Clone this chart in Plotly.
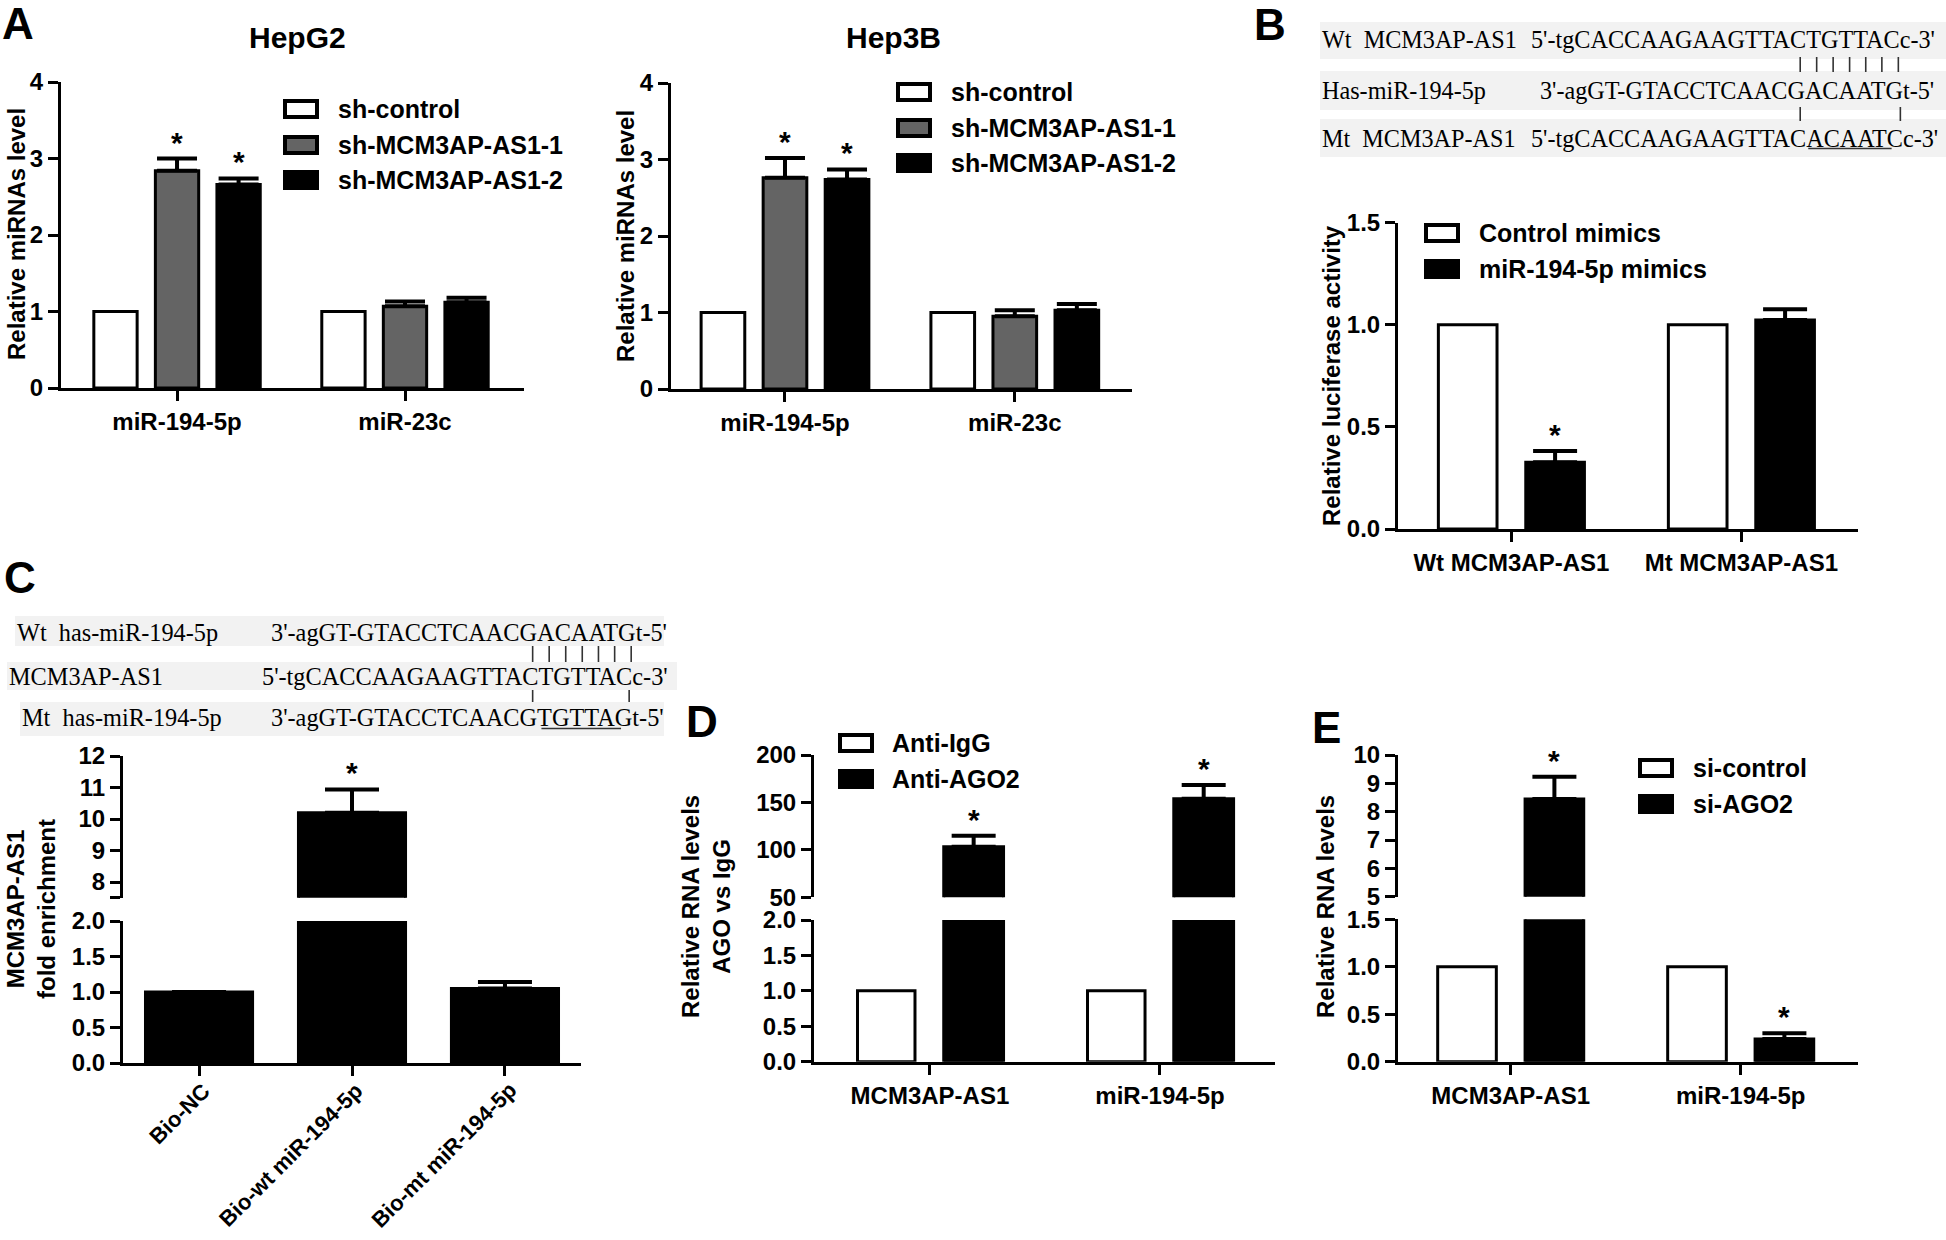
import plotly.graph_objects as go

W, H = 1946, 1240
SANS = "Liberation Sans, Arial, Helvetica, sans-serif"
SERIF = "Liberation Serif, Times New Roman, Times, serif"
WHITE, GRAY, BLACK = "#ffffff", "#646464", "#000000"

# ---------------- data ----------------
a_categories = ["miR-194-5p", "miR-23c"]
a_series = ["sh-control", "sh-MCM3AP-AS1-1", "sh-MCM3AP-AS1-2"]
hepg2_control = [1.0, 1.0]
hepg2_sh1 = [2.84, 1.07]
hepg2_sh1_err = [0.16, 0.06]
hepg2_sh2 = [2.66, 1.12]
hepg2_sh2_err = [0.08, 0.06]
hep3b_control = [1.0, 1.0]
hep3b_sh1 = [2.76, 0.95]
hep3b_sh1_err = [0.26, 0.08]
hep3b_sh2 = [2.74, 1.03]
hep3b_sh2_err = [0.13, 0.08]
a_sig = [True, False]
a_yticks = [0, 1, 2, 3, 4]

b_categories = ["Wt MCM3AP-AS1", "Mt MCM3AP-AS1"]
b_series = ["Control mimics", "miR-194-5p mimics"]
b_control = [1.0, 1.0]
b_mimics = [0.327, 1.024]
b_mimics_err = [0.055, 0.052]
b_sig = [True, False]
b_yticks = [0.0, 0.5, 1.0, 1.5]

c_categories = ["Bio-NC", "Bio-wt miR-194-5p", "Bio-mt miR-194-5p"]
c_values = [1.0, 10.2, 1.05]
c_err = [0.0, 0.74, 0.09]
c_sig = [False, True, False]
c_yticks_low = [0.0, 0.5, 1.0, 1.5, 2.0]
c_yticks_high = [7.5, 8, 9, 10, 11, 12]
c_yticktext_high = ["", "8", "9", "10", "11", "12"]

d_categories = ["MCM3AP-AS1", "miR-194-5p"]
d_series = ["Anti-IgG", "Anti-AGO2"]
d_igg = [1.0, 1.0]
d_ago2 = [103.3, 153.9]
d_ago2_err = [11.6, 14.5]
d_sig = [True, True]
d_yticks_low = [0.0, 0.5, 1.0, 1.5, 2.0]
d_yticks_high = [50, 100, 150, 200]

e_categories = ["MCM3AP-AS1", "miR-194-5p"]
e_series = ["si-control", "si-AGO2"]
e_control = [1.0, 1.0]
e_ago2 = [8.45, 0.24]
e_ago2_err = [0.78, 0.06]
e_sig = [True, True]
e_yticks_low = [0.0, 0.5, 1.0, 1.5]
e_yticks_high = [5, 6, 7, 8, 9, 10]

b_seq_names = ["Wt\u00a0\u00a0MCM3AP-AS1", "Has-miR-194-5p", "Mt\u00a0\u00a0MCM3AP-AS1"]
b_seqs = ["5'-tgCACCAAGAAGTTACTGTTACc-3'",
          "3'-agGT-GTACCTCAACGACAATGt-5'",
          "5'-tgCACCAAGAAGTTACACAATCc-3'"]
c_seq_names = ["Wt\u00a0\u00a0has-miR-194-5p", "MCM3AP-AS1", "Mt\u00a0\u00a0has-miR-194-5p"]
c_seqs = ["3'-agGT-GTACCTCAACGACAATGt-5'",
          "5'-tgCACCAAGAAGTTACTGTTACc-3'",
          "3'-agGT-GTACCTCAACGTGTTAGt-5'"]

# ---------------- helpers ----------------
fig = go.Figure()
layout = dict(template="none", width=W, height=H, margin=dict(l=0, r=0, t=0, b=0, pad=0),
              autosize=False, paper_bgcolor="white", plot_bgcolor="rgba(0,0,0,0)",
              barmode="overlay", showlegend=False)
shapes, annots = [], []


def px(x):
    return x / W


def py(y):
    return 1 - y / H


def sfx(n):
    return "" if n == 1 else str(n)


TICKFONT = dict(family=SANS, size=24, color=BLACK, weight="bold")
LABFONT = dict(family=SANS, size=25, color=BLACK, weight="bold")


def axis_common():
    return dict(showline=True, linewidth=3, linecolor=BLACK, ticks="outside",
                ticklen=10, tickwidth=3, tickcolor=BLACK, showgrid=False,
                zeroline=False, fixedrange=True, tickfont=TICKFONT, automargin=False)


def add_x(n, x0, x1, xr, cats, visible=True, labels=True):
    ax = axis_common()
    ax.update(domain=[px(x0), px(x1)], range=xr, anchor="y" + sfx(n),
              tickmode="array", tickvals=list(range(len(cats))), ticktext=cats,
              showticklabels=labels, visible=visible)
    layout["xaxis" + sfx(n)] = ax


def add_y(n, ytop, ybot, yr, tickvals, fmt=None, ticktext=None):
    ax = axis_common()
    ax.update(domain=[py(ybot), py(ytop)], range=yr, anchor="x" + sfx(n),
              tickmode="array", tickvals=tickvals)
    if ticktext is not None:
        ax["ticktext"] = ticktext
    elif fmt:
        ax["ticktext"] = [format(v, fmt) for v in tickvals]
    else:
        ax["ticktext"] = [str(v) for v in tickvals]
    layout["yaxis" + sfx(n)] = ax


def add_bars(n, values, err, color, off, width, errw):
    err = err if err is not None else [0] * len(values)
    fig.add_trace(go.Bar(
        x=list(range(len(values))), y=values, width=width, offset=off - width / 2,
        xaxis="x" + sfx(n), yaxis="y" + sfx(n),
        marker=dict(color=color, line=dict(color=BLACK, width=3)),
        error_y=dict(type="data", array=err, arrayminus=[0] * len(values),
                     symmetric=False, visible=any(e > 0 for e in err),
                     color=BLACK, thickness=4, width=errw),
        hoverinfo="skip"))


def add_stars(values, err, sig, off, n_low, n_high=None, low_top=None):
    for i, (v, e, s) in enumerate(zip(values, err, sig)):
        if not s:
            continue
        n = n_low
        if n_high is not None and v + e > low_top:
            n = n_high
        annots.append(dict(x=i + off, y=v + e, xref="x" + sfx(n), yref="y" + sfx(n),
                           text="*", showarrow=False, yanchor="bottom", yshift=-2,
                           font=dict(family=SANS, size=30, color=BLACK, weight="bold")))


def legend(items, x_rect, x_text, ys, rw=32, rh=16):
    for (name, color), y in zip(items, ys):
        shapes.append(dict(type="rect", xref="paper", yref="paper",
                           x0=px(x_rect), x1=px(x_rect + rw),
                           y0=py(y + rh / 2), y1=py(y - rh / 2),
                           fillcolor=color, line=dict(color=BLACK, width=4)))
        annots.append(dict(xref="paper", yref="paper", x=px(x_text), y=py(y),
                           xanchor="left", yanchor="middle", text=name, showarrow=False,
                           font=LABFONT))


def text(x, y, s, size=25, anchor="center", angle=0, weight="bold", family=SANS):
    annots.append(dict(xref="paper", yref="paper", x=px(x), y=py(y), text=s,
                       xanchor=anchor, yanchor="middle", showarrow=False, textangle=angle,
                       borderpad=0, borderwidth=0,
                       font=dict(family=family, size=size, color=BLACK, weight=weight)))


# Times New Roman advance widths (per 1000 em) for the sequence glyphs
TW = {"0": 500, "1": 500, "2": 500, "3": 500, "4": 500, "5": 500, "'": 180, "-": 333,
      "a": 444, "c": 444, "g": 500, "t": 278, "A": 722, "C": 667, "G": 722, "T": 611}


def tw(s, size):
    return sum(TW.get(ch, 500) for ch in s) * size / 1000.0


def seq_block(names, seqs, name_xs, ys, bands, mid_end, size, gaps, under_row, under_span):
    k = 18
    mid = seqs[1]
    mid_start = mid_end - tw(mid, size)
    anchor = mid_start + tw(mid[:k], size) + tw(mid[k], size) / 2
    starts = [anchor - tw(s[:k], size) - tw(s[k], size) / 2 for s in seqs]
    for (bx0, bx1, by0, by1) in bands:
        shapes.append(dict(type="rect", xref="paper", yref="paper", layer="below",
                           x0=px(bx0), x1=px(bx1), y0=py(by1), y1=py(by0),
                           fillcolor="#f2f2f2", line=dict(width=0)))
    for nm, nx, s, sx, y in zip(names, name_xs, seqs, starts, ys):
        text(nx, y, nm, size=size, anchor="left", weight="normal", family=SERIF)
        text(sx, y, s, size=size, anchor="left", weight="normal", family=SERIF)

    def cx(r, i):
        return starts[r] + tw(seqs[r][:i], size) + tw(seqs[r][i], size) / 2

    for (r, idxs, y0, y1) in gaps:
        for i in idxs:
            x = (cx(r, i) + cx(r + 1, i)) / 2
            shapes.append(dict(type="line", xref="paper", yref="paper",
                               x0=px(x), x1=px(x), y0=py(y1), y1=py(y0),
                               line=dict(color="#333333", width=1.6)))
    i0, i1 = under_span
    ux0 = starts[under_row] + tw(seqs[under_row][:i0], size)
    ux1 = starts[under_row] + tw(seqs[under_row][:i1 + 1], size)
    uy = ys[under_row] + 10.5
    shapes.append(dict(type="line", xref="paper", yref="paper",
                       x0=px(ux0), x1=px(ux1), y0=py(uy), y1=py(uy),
                       line=dict(color="#333333", width=1.6)))


# ---------------- Panel A : HepG2 (axis 1) & Hep3B (axis 2) ----------------
A_OFF = [-0.27, 0.0, 0.27]
A_W = 0.19
add_x(1, 61, 524, [-0.509, 1.522], a_categories)
add_y(1, 82, 388, [0, 4], a_yticks)
for vals, err, col, off in [(hepg2_control, None, WHITE, A_OFF[0]),
                            (hepg2_sh1, hepg2_sh1_err, GRAY, A_OFF[1]),
                            (hepg2_sh2, hepg2_sh2_err, BLACK, A_OFF[2])]:
    add_bars(1, vals, err, col, off, A_W, 20)
add_stars(hepg2_sh1, hepg2_sh1_err, a_sig, A_OFF[1], 1)
add_stars(hepg2_sh2, hepg2_sh2_err, a_sig, A_OFF[2], 1)

add_x(2, 671, 1132, [-0.496, 1.51], a_categories)
add_y(2, 83, 389, [0, 4], a_yticks)
for vals, err, col, off in [(hep3b_control, None, WHITE, A_OFF[0]),
                            (hep3b_sh1, hep3b_sh1_err, GRAY, A_OFF[1]),
                            (hep3b_sh2, hep3b_sh2_err, BLACK, A_OFF[2])]:
    add_bars(2, vals, err, col, off, A_W, 20)
add_stars(hep3b_sh1, hep3b_sh1_err, a_sig, A_OFF[1], 2)
add_stars(hep3b_sh2, hep3b_sh2_err, a_sig, A_OFF[2], 2)

text(2, 23, "A", size=44, anchor="left")
text(297, 38, "HepG2", size=30)
text(893, 38, "Hep3B", size=30)
text(16, 234, "Relative miRNAs level", size=24, angle=-90)
text(626, 236, "Relative miRNAs level", size=24, angle=-90)
legend(list(zip(a_series, [WHITE, GRAY, BLACK])), 285, 336, [109, 145, 180])
legend(list(zip(a_series, [WHITE, GRAY, BLACK])), 898, 949, [92, 128, 163])

# ---------------- Panel B (axis 3) ----------------
P_OFF = [-0.19, 0.19]
P_W = 0.255
add_x(3, 1398, 1858, [-0.493, 1.507], b_categories)
add_y(3, 222.7, 529, [0, 1.5], b_yticks, fmt=".1f")
add_bars(3, b_control, None, WHITE, P_OFF[0], P_W, 22)
add_bars(3, b_mimics, b_mimics_err, BLACK, P_OFF[1], P_W, 22)
add_stars(b_mimics, b_mimics_err, b_sig, P_OFF[1], 3)
text(1254, 25, "B", size=44, anchor="left")
text(1331, 376, "Relative luciferase activity", size=24, angle=-90)
legend(list(zip(b_series, [WHITE, BLACK])), 1426, 1477, [233, 269])
seq_block(b_seq_names, b_seqs, [1322, 1322, 1322], [40, 90, 138],
          [(1320, 1946, 22, 59), (1320, 1946, 71, 110), (1320, 1946, 119, 157)],
          1941, 24.2,
          [(0, range(18, 25), 57, 72), (1, [18, 24], 107, 121)], 2, (19, 23))

# ---------------- Panel C (axes 4 lower, 5 upper) ----------------
add_x(4, 123, 581, [-0.497, 2.497], c_categories, labels=False)
add_y(4, 921, 1063, [0, 2], c_yticks_low, fmt=".1f")
add_x(5, 123, 581, [-0.497, 2.497], c_categories, visible=False)
add_y(5, 756, 897.8, [7.5, 12], c_yticks_high, ticktext=c_yticktext_high)
for n in (4, 5):
    add_bars(n, c_values, c_err, BLACK, 0.0, 0.70, 27)
add_stars(c_values, c_err, c_sig, 0.0, 4, 5, 2.0)
for i, cat in enumerate(c_categories):
    annots.append(dict(x=i, y=py(1078), xref="x4", yref="paper", text=cat,
                       textangle=-45, xanchor="right", yanchor="top", xshift=16,
                       showarrow=False, borderpad=0, borderwidth=0,
                       font=dict(family=SANS, size=22, color=BLACK, weight="bold")))
text(4, 577, "C", size=44, anchor="left")
annots.append(dict(xref="paper", yref="paper", x=px(31), y=py(909),
                   text="MCM3AP-AS1<br>fold enrichment", showarrow=False, textangle=-90,
                   xanchor="center", yanchor="middle", font=dict(family=SANS, size=24,
                   color=BLACK, weight="bold")))
seq_block(c_seq_names, c_seqs, [17, 9, 22], [632, 676, 718],
          [(15, 664, 616, 646), (7, 677, 662, 690), (20, 664, 702, 736)],
          672, 24.3,
          [(0, range(18, 25), 646, 662), (1, [18, 24], 690, 702)], 2, (19, 23))

# ---------------- Panel D (axes 6 lower, 7 upper) ----------------
add_x(6, 814, 1275, [-0.504, 1.5], d_categories)
add_y(6, 920, 1061.7, [0, 2], d_yticks_low, fmt=".1f")
add_x(7, 814, 1275, [-0.504, 1.5], d_categories, visible=False)
add_y(7, 755, 897.3, [50, 200], d_yticks_high)
for n in (6, 7):
    add_bars(n, d_igg, None, WHITE, P_OFF[0], 0.25, 22)
    add_bars(n, d_ago2, d_ago2_err, BLACK, P_OFF[1], 0.26, 22)
add_stars(d_ago2, d_ago2_err, d_sig, P_OFF[1], 6, 7, 2.0)
text(686, 721, "D", size=44, anchor="left")
annots.append(dict(xref="paper", yref="paper", x=px(706), y=py(907),
                   text="Relative RNA levels<br>AGO vs IgG", showarrow=False, textangle=-90,
                   xanchor="center", yanchor="middle", font=dict(family=SANS, size=24,
                   color=BLACK, weight="bold")))
legend(list(zip(d_series, [WHITE, BLACK])), 840, 890, [743, 779])

# ---------------- Panel E (axes 8 lower, 9 upper) ----------------
add_x(8, 1398, 1858, [-0.49, 1.51], e_categories)
add_y(8, 919.3, 1061.7, [0, 1.5], e_yticks_low, fmt=".1f")
add_x(9, 1398, 1858, [-0.49, 1.51], e_categories, visible=False)
add_y(9, 755, 896.7, [5, 10], e_yticks_high)
for n in (8, 9):
    add_bars(n, e_control, None, WHITE, P_OFF[0], P_W, 22)
    add_bars(n, e_ago2, e_ago2_err, BLACK, P_OFF[1], P_W, 22)
add_stars(e_ago2, e_ago2_err, e_sig, P_OFF[1], 8, 9, 1.5)
text(1312, 727, "E", size=44, anchor="left")
text(1325, 907, "Relative RNA levels", size=24, angle=-90)
legend(list(zip(e_series, [WHITE, BLACK])), 1640, 1691, [768, 804])

layout["shapes"] = shapes
layout["annotations"] = annots
fig.update_layout(**layout)
fig.write_html(
    "out.html",
    config={"displayModeBar": False},
    post_script=("document.documentElement.style.margin='0';"
                 "document.body.style.margin='0';document.body.style.padding='0';"
                 "document.documentElement.style.overflow='hidden';"
                 "document.body.style.overflow='hidden';"),
)
